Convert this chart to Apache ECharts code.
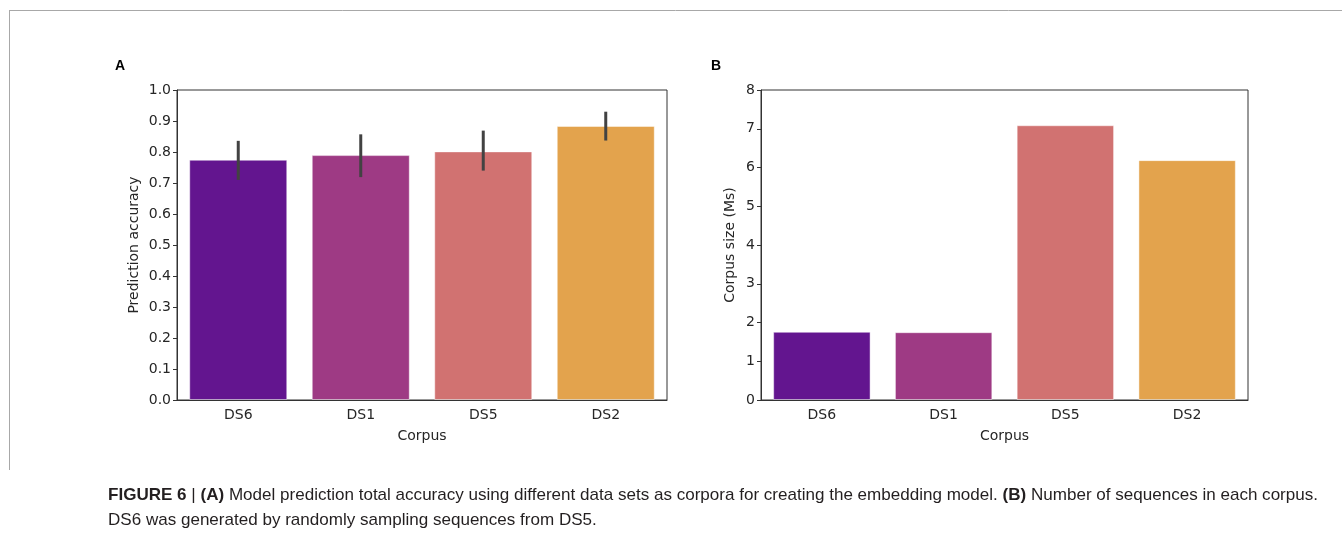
<!DOCTYPE html>
<html>
<head>
<meta charset="utf-8">
<script src="https://cdn.jsdelivr.net/npm/echarts@6/dist/echarts.min.js"></script>
<style>
  html, body { margin: 0; padding: 0; background: #fff; }
  #chart { width: 1342px; height: 533px; }
</style>
</head>
<body>
<div id="chart"></div>
<script>
// Corpora in plotting order
const corpora = ['DS6', 'DS1', 'DS5', 'DS2'];
const barColors = ['#63158f', '#9e3a84', '#d17271', '#e3a34d'];

// Panel A: mean prediction accuracy with confidence interval
const accuracy = [0.775, 0.790, 0.802, 0.884];
const accuracyLow = [0.710, 0.719, 0.740, 0.837];
const accuracyHigh = [0.836, 0.857, 0.869, 0.930];

// Panel B: corpus size in millions of sequences
const corpusSize = [1.76, 1.75, 7.09, 6.19];

const tickFont = { fontFamily: 'DejaVu Sans', fontSize: 14, color: '#262626' };
const nameFont = { fontFamily: 'DejaVu Sans', fontSize: 14, color: '#262626' };

const chart = echarts.init(document.getElementById('chart'), null, { renderer: 'canvas' });

function catAxis(gridIndex) {
  return {
    type: 'category', gridIndex, data: corpora,
    name: 'Corpus', nameLocation: 'middle', nameGap: 29, nameTextStyle: nameFont,
    axisLine: { lineStyle: { color: '#333', width: 1 } },
    axisTick: { alignWithLabel: true, length: 4, lineStyle: { color: '#333' } },
    axisLabel: Object.assign({ margin: 8 }, tickFont)
  };
}

function valAxis(gridIndex, max, interval, name, gap, digits) {
  return {
    type: 'value', gridIndex, min: 0, max, interval,
    name, nameLocation: 'middle', nameGap: gap, nameTextStyle: nameFont,
    splitLine: { show: false },
    axisLine: { show: true, lineStyle: { color: '#333', width: 1 } },
    axisTick: { show: true, length: 4, lineStyle: { color: '#333' } },
    axisLabel: Object.assign({ margin: 6, formatter: v => v.toFixed(digits) }, tickFont)
  };
}

function coloredData(values) {
  return values.map((v, i) => ({ value: v, itemStyle: { color: barColors[i] } }));
}

// Caption lines
const caption1 = '{b|FIGURE 6} | {b|(A)} Model prediction total accuracy using different data sets as corpora for creating the embedding model. {b|(B)} Number of sequences in each corpus.';
const caption2 = 'DS6 was generated by randomly sampling sequences from DS5.';
const capFamily = '"Liberation Sans Narrow", "Liberation Sans", Arial, sans-serif';
const capSize = 17;

// Horizontal scale so the first caption line spans the text column
const ctx = document.createElement('canvas').getContext('2d');
function measure(str, bold) {
  ctx.font = (bold ? 'bold ' : '') + capSize + 'px ' + capFamily;
  return ctx.measureText(str).width;
}
const plain1 = caption1.replace(/\{b\|([^}]*)\}/g, '');
const boldParts = (caption1.match(/\{b\|([^}]*)\}/g) || []).map(s => s.slice(3, -1)).join('');
const w1 = measure(plain1, false) + measure(boldParts, true);
const capScale = Math.min(1.2, 1210 / w1);

const capStyleBase = {
  font: capSize + 'px ' + capFamily,
  fill: '#231f20',
  rich: { b: { fontWeight: 'bold', fontSize: capSize, fontFamily: capFamily, fill: '#231f20' } }
};

chart.setOption({
  animation: false,
  backgroundColor: '#fff',
  grid: [
    { left: 177, right: 675, top: 90, bottom: 133, show: true, borderColor: '#333', borderWidth: 1 },
    { left: 761, right: 94, top: 90, bottom: 133, show: true, borderColor: '#333', borderWidth: 1 }
  ],
  xAxis: [catAxis(0), catAxis(1)],
  yAxis: [
    valAxis(0, 1, 0.1, 'Prediction accuracy', 36, 1),
    valAxis(1, 8, 1, 'Corpus size (Ms)', 24, 0)
  ],
  series: [
    {
      type: 'bar', xAxisIndex: 0, yAxisIndex: 0, barWidth: '80%',
      itemStyle: { borderColor: 'rgba(255,255,255,0.45)', borderWidth: 1 },
      data: coloredData(accuracy)
    },
    {
      type: 'custom', xAxisIndex: 0, yAxisIndex: 0, z: 5,
      data: corpora.map((c, i) => [i, accuracyLow[i], accuracyHigh[i]]),
      renderItem: function (params, api) {
        const lo = api.coord([api.value(0), api.value(1)]);
        const hi = api.coord([api.value(0), api.value(2)]);
        return {
          type: 'line',
          shape: { x1: lo[0], y1: lo[1], x2: hi[0], y2: hi[1] },
          style: { stroke: '#424242', lineWidth: 3 }
        };
      }
    },
    {
      type: 'bar', xAxisIndex: 1, yAxisIndex: 1, barWidth: '80%',
      itemStyle: { borderColor: 'rgba(255,255,255,0.45)', borderWidth: 1 },
      data: coloredData(corpusSize)
    }
  ],
  graphic: [
    { type: 'line', shape: { x1: 9, y1: 10.5, x2: 1342, y2: 10.5 }, style: { stroke: '#a8a8a8', lineWidth: 1 } },
    { type: 'line', shape: { x1: 9.5, y1: 10, x2: 9.5, y2: 470 }, style: { stroke: '#a8a8a8', lineWidth: 1 } },
    { type: 'text', left: 115, top: 59, style: { text: 'A', font: 'bold 14px "Liberation Sans", Arial, sans-serif', fill: '#000' } },
    { type: 'text', left: 711, top: 59, style: { text: 'B', font: 'bold 14px "Liberation Sans", Arial, sans-serif', fill: '#000' } },
    { type: 'text', x: 108, y: 487, scaleX: capScale, style: Object.assign({ text: caption1 }, capStyleBase) },
    { type: 'text', x: 108, y: 512, scaleX: capScale, style: Object.assign({ text: caption2 }, capStyleBase) }
  ]
});
</script>
</body>
</html>
